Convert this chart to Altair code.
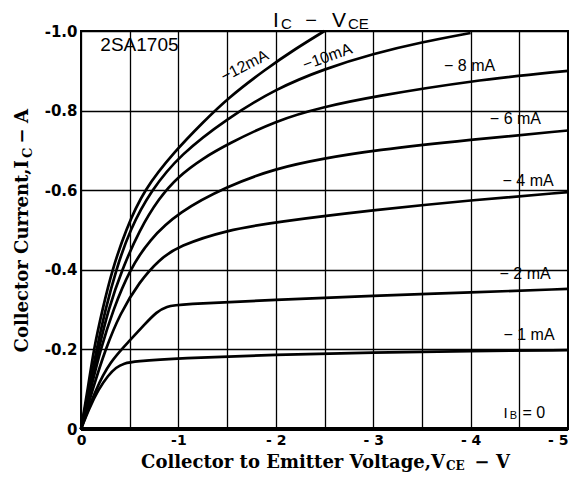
import altair as alt
import pandas as pd

# ---- curve data (V_CE in V, I_C in A) ----
v_12 = [0, -0.07, -0.13, -0.22, -0.32, -0.46, -0.64, -0.97, -1.25, -1.5, -1.9, -2.2, -2.5]
i_12 = [0, -0.10, -0.20, -0.30, -0.40, -0.50, -0.60, -0.70, -0.77, -0.83, -0.905, -0.955, -1.0]

v_10 = [0, -0.08, -0.16, -0.25, -0.36, -0.50, -0.72, -1.02, -1.5, -2.0, -2.5, -3.0, -3.5, -4.0]
i_10 = [0, -0.10, -0.20, -0.30, -0.40, -0.50, -0.60, -0.69, -0.78, -0.855, -0.905, -0.943, -0.972, -0.995]

v_8 = [0, -0.09, -0.18, -0.28, -0.42, -0.60, -0.80, -1.0, -1.25, -1.5, -2.0, -2.5, -3.0, -4.0, -5.0]
i_8 = [0, -0.10, -0.20, -0.30, -0.40, -0.50, -0.58, -0.635, -0.68, -0.715, -0.775, -0.81, -0.835, -0.875, -0.90]

v_6 = [0, -0.10, -0.20, -0.33, -0.50, -0.70, -1.0, -1.5, -2.0, -2.5, -3.0, -4.0, -5.0]
i_6 = [0, -0.10, -0.20, -0.30, -0.40, -0.475, -0.545, -0.61, -0.655, -0.68, -0.70, -0.727, -0.75]

v_4 = [0, -0.12, -0.25, -0.40, -0.60, -0.80, -1.0, -1.5, -2.0, -3.0, -4.0, -5.0]
i_4 = [0, -0.10, -0.20, -0.29, -0.37, -0.425, -0.46, -0.50, -0.52, -0.55, -0.575, -0.595]

v_2 = [0, -0.15, -0.30, -0.50, -0.65, -0.78, -0.88, -1.0, -2.0, -3.0, -4.0, -5.0]
i_2 = [0, -0.10, -0.17, -0.222, -0.262, -0.295, -0.308, -0.313, -0.325, -0.335, -0.343, -0.352]

v_1 = [0, -0.08, -0.18, -0.28, -0.36, -0.44, -0.55, -1.0, -2.0, -3.0, -4.0, -5.0]
i_1 = [0, -0.05, -0.10, -0.135, -0.155, -0.165, -0.170, -0.178, -0.187, -0.192, -0.196, -0.198]

v_0 = [0, -5.0]
i_0 = [0, 0]

curve_names = ["-12mA", "-10mA", "-8mA", "-6mA", "-4mA", "-2mA", "-1mA", "IB=0"]
curve_v = [v_12, v_10, v_8, v_6, v_4, v_2, v_1, v_0]
curve_i = [i_12, i_10, i_8, i_6, i_4, i_2, i_1, i_0]

# ---- in-plot labels ----
label_text = ["2SA1705", "\u221212mA", "\u221210mA", "\u2212 8 mA", "\u2212 6 mA",
              "\u2212 4 mA", "\u2212 2 mA", "\u2212 1 mA", "I", "B", "= 0"]
label_v = [-0.60, -1.68, -2.53, -3.99, -4.46, -4.59, -4.56, -4.60, -4.36, -4.44, -4.65]
label_i = [-0.965, -0.9125, -0.935, -0.9125, -0.78, -0.6225, -0.39, -0.235, -0.04, -0.033, -0.04]
label_angle = [0, 333, 340, 0, 0, 0, 0, 0, 0, 0, 0]
label_size = [19, 16, 16, 16, 16, 16, 16, 16, 15, 11, 16]

x_grid = [0, -0.5, -1, -1.5, -2, -2.5, -3, -3.5, -4, -4.5, -5]
y_grid = [0, -0.1, -0.2, -0.3, -0.4, -0.5, -0.6, -0.7, -0.8, -0.9, -1.0]

rows = []
for name, vs, cs in zip(curve_names, curve_v, curve_i):
    for k, (v, c) in enumerate(zip(vs, cs)):
        rows.append({"series": name, "V": v, "I": c, "k": k})
df = pd.DataFrame(rows)

lab = pd.DataFrame({"text": label_text, "V": label_v, "I": label_i,
                    "angle": label_angle, "size": label_size})

W, H = 487, 398

xscale = alt.Scale(domain=[0, -5], nice=False, zero=False)
yscale = alt.Scale(domain=[0, -1], nice=False, zero=False)

tick_font = "DejaVu Sans"
x_axis = alt.Axis(values=x_grid, grid=True, gridColor="black", gridWidth=1.3, gridOpacity=1,
                  domain=False, ticks=False, labelPadding=4, title=None,
                  labelFont=tick_font, labelFontWeight="bold", labelFontSize=14,
                  labelColor="black", labelFlush=False,
                  labelAlign={"condition": {"test": "datum.value == -5", "value": "right"},
                              "value": "center"},
                  labelExpr="datum.value % 1 != 0 ? '' : (datum.value == 0 ? '0' : (datum.value == -1 ? '-1' : '- ' + format(-datum.value, 'd')))")
y_axis = alt.Axis(values=y_grid, grid=True, gridColor="black", gridWidth=1.3, gridOpacity=1,
                  domain=False, ticks=False, labelPadding=4, title=None,
                  labelFont=tick_font, labelFontWeight="bold", labelFontSize=15,
                  labelColor="black", labelFlush=False,
                  labelExpr="round(datum.value * 10) % 2 != 0 ? '' : (datum.value == 0 ? '0' : '-' + format(-datum.value, '.1f'))")

lines = alt.Chart(df).mark_line(color="black", interpolate="basis").encode(
    x=alt.X("V:Q", scale=xscale, axis=x_axis),
    y=alt.Y("I:Q", scale=yscale, axis=y_axis),
    detail="series:N",
    order="k:Q",
    strokeWidth=alt.condition("datum.series == 'IB=0'", alt.value(4), alt.value(2.7)),
)

labels = alt.Chart(lab).mark_text(font="Liberation Sans", color="black", align="center",
                                   baseline="middle").encode(
    x=alt.X("V:Q", scale=xscale),
    y=alt.Y("I:Q", scale=yscale),
    text="text:N",
    angle=alt.Angle("angle:Q", scale=None),
    size=alt.Size("size:Q", scale=None, legend=None),
)

one = pd.DataFrame({"a": [0]})


def piece(text, x, y, size, font, weight="normal", angle=0, align="left"):
    return alt.Chart(one).mark_text(text=text, fontSize=size, font=font, fontWeight=weight,
                                    angle=angle, align=align, baseline="alphabetic",
                                    color="black").encode(x=alt.value(x), y=alt.value(y))


serif = "DejaVu Serif"
sans = "Liberation Sans"
pieces = [
    # title  I_C - V_CE
    piece("I", 192, -4, 21, sans),
    piece("C", 200, -2, 15, sans),
    piece("\u2212", 230, -4, 20, sans, align="center"),
    piece("V", 251, -4, 21, sans),
    piece("CE", 267, -2, 15, sans),
    # x title
    piece("Collector to Emitter Voltage,V", 364, 437, 18, serif, "bold", align="right"),
    piece("CE", 365, 439, 12, serif, "bold"),
    piece("\u2212", 401, 437, 18, serif, "bold", align="center"),
    piece("V", 422, 437, 18, serif, "bold", align="center"),
    # y title (rotated)
    piece("Collector Current,I", -53, 129, 18, serif, "bold", angle=270, align="right"),
    piece("C", -49, 127, 13, serif, "bold", angle=270, align="left"),
    piece("\u2212", -53, 105, 18, serif, "bold", angle=270, align="center"),
    piece("A", -53, 85, 18, serif, "bold", angle=270, align="center"),
]

chart = alt.layer(lines, labels, *pieces).properties(
    width=W, height=H,
    padding={"left": 73, "top": 23, "right": 1, "bottom": 44},
    autosize=alt.AutoSizeParams(type="none"),
    background="white",
).configure_view(stroke="black", strokeWidth=2)

chart.save("out.html", embed_options={"renderer": "svg", "actions": False})
